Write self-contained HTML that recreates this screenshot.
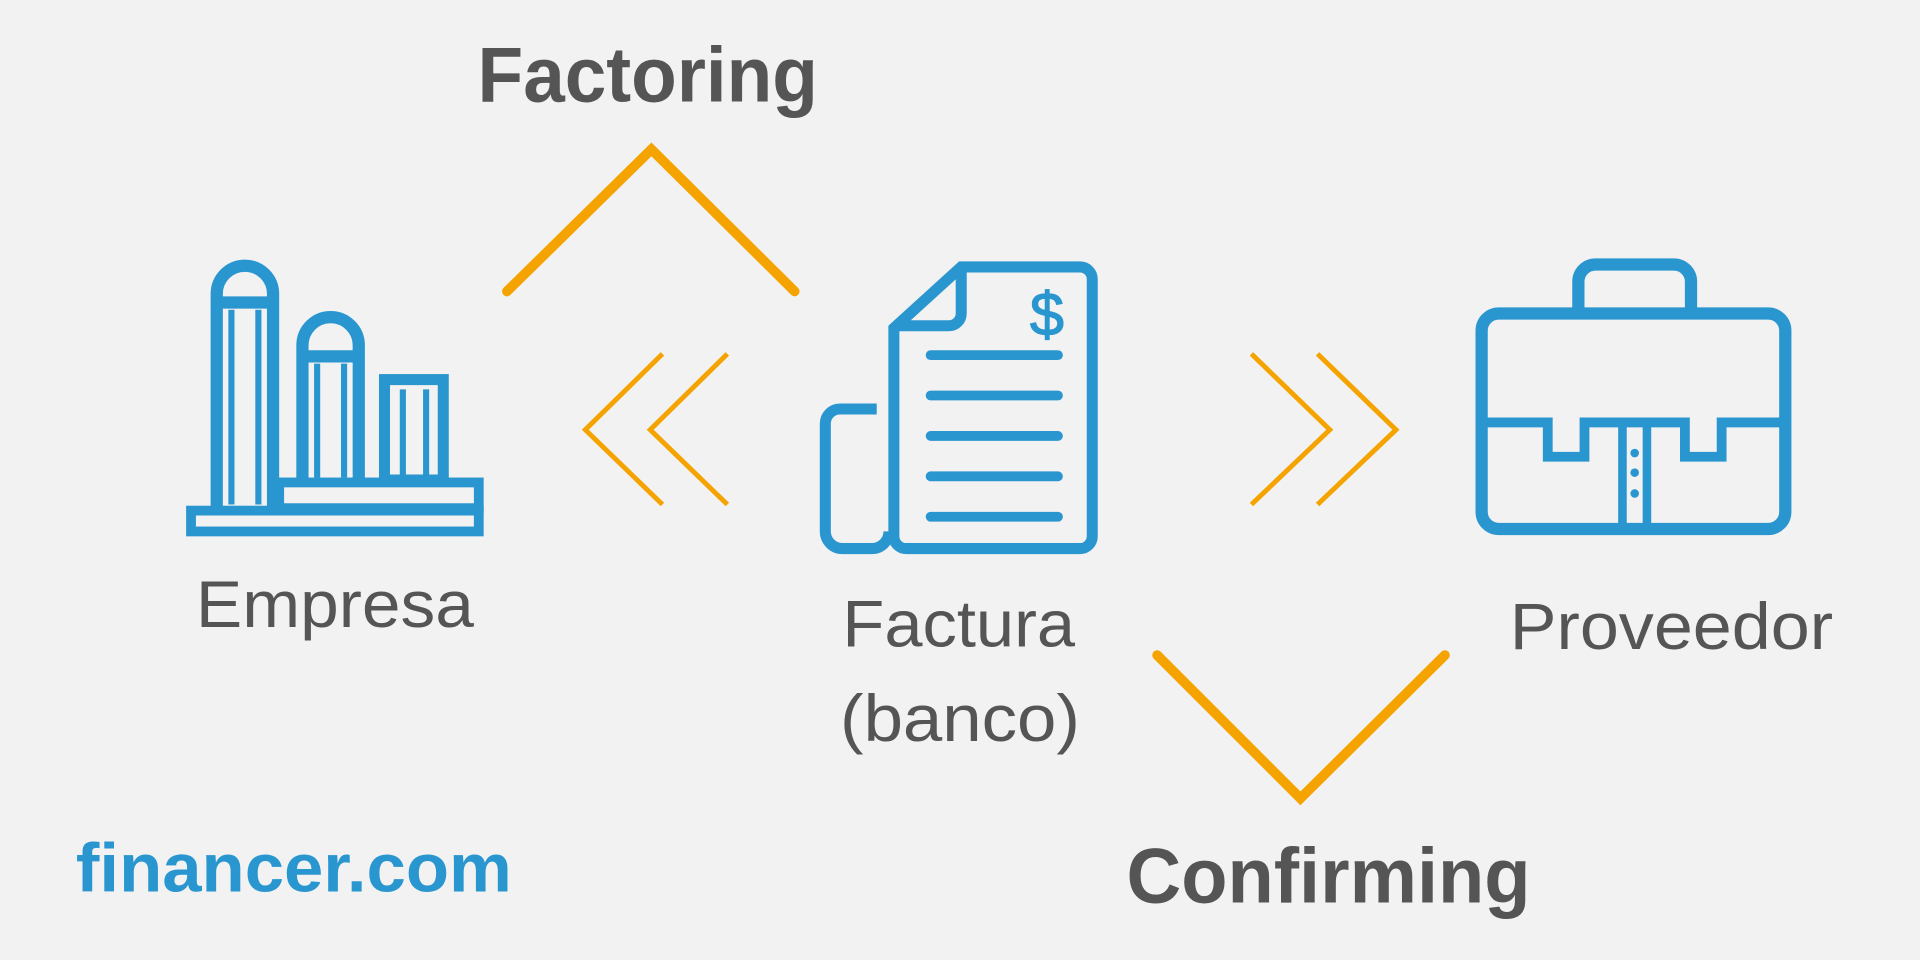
<!DOCTYPE html>
<html><head><meta charset="utf-8"><style>
html,body{margin:0;padding:0;background:#f2f2f2;}
svg{display:block;}
text{font-family:"Liberation Sans",sans-serif;}
</style></head><body>
<svg width="1920" height="960" viewBox="0 0 1568 784" xmlns="http://www.w3.org/2000/svg">
<rect width="1568" height="784" fill="#f2f2f2"/>
<g fill="none" stroke="#F5A300" stroke-linecap="round" stroke-linejoin="miter">
<polyline points="414,238 532,122 649,238" stroke-width="8"/>
<polyline points="945,535 1062,652 1180,535" stroke-width="8"/>
</g>
<g fill="none" stroke="#F5A300" stroke-width="4">
<polyline points="541,289 478,351 541,412"/>
<polyline points="594,289 531,351 594,412"/>
<polyline points="1022,289 1086,351 1022,412"/>
<polyline points="1076,289 1140,351 1076,412"/>
</g>
<g fill="none" stroke="#2A96D0" stroke-width="10">
<!-- building -->
<path d="M177,415 V240 A23,23 0 0 1 223,240 V415"/>
<line x1="177" y1="247" x2="223" y2="247"/>
<line x1="189" y1="253" x2="189" y2="412" stroke-width="5"/>
<line x1="211" y1="253" x2="211" y2="412" stroke-width="5"/>
<path d="M247,392 V282 A23,23 0 0 1 293,282 V392"/>
<line x1="247" y1="291" x2="293" y2="291"/>
<line x1="259" y1="297" x2="259" y2="390" stroke-width="5"/>
<line x1="281" y1="297" x2="281" y2="390" stroke-width="5"/>
<rect x="314" y="310" width="48" height="82" stroke-width="9"/>
<line x1="329" y1="318" x2="329" y2="390" stroke-width="5"/>
<line x1="348" y1="318" x2="348" y2="390" stroke-width="5"/>
<rect x="228" y="394" width="163" height="21" stroke-width="8"/>
<rect x="156" y="417" width="235" height="17" stroke-width="8"/>
<!-- document -->
<path d="M785,218 H882 A10,10 0 0 1 892,228 V438 A10,10 0 0 1 882,448 H740 A10,10 0 0 1 730,438 V268 Z" stroke-width="9"/>
<path d="M785,218 V256 A10,10 0 0 1 775,266 H732" stroke-width="9"/>
<path d="M716,334 H686 A12,12 0 0 0 674,346 V434 A14,14 0 0 0 688,448 H712 A14,14 0 0 0 726,434" stroke-width="9"/>
<g stroke-linecap="round" stroke-width="8">
<line x1="760" y1="290" x2="864" y2="290"/>
<line x1="760" y1="323" x2="864" y2="323"/>
<line x1="760" y1="356" x2="864" y2="356"/>
<line x1="760" y1="389" x2="864" y2="389"/>
<line x1="760" y1="422" x2="864" y2="422"/>
</g>
<!-- briefcase -->
<rect x="1210" y="256" width="248" height="176" rx="14"/>
<path d="M1289,254 V230 A14,14 0 0 1 1303,216 H1367 A14,14 0 0 1 1381,230 V254"/>
<path d="M1212,345 H1264 V373 H1294 V345 H1376 V373 H1406 V345 H1456" stroke-width="8"/>
<line x1="1325" y1="348" x2="1325" y2="430" stroke-width="7"/>
<line x1="1345" y1="348" x2="1345" y2="430" stroke-width="7"/>
</g>
<g fill="#2A96D0">
<circle cx="1335" cy="370" r="3.5"/><circle cx="1335" cy="386" r="3.5"/><circle cx="1335" cy="403" r="3.5"/>
</g>
<text x="855" y="274" font-size="50" fill="#2A96D0" text-anchor="middle" stroke="#2A96D0" stroke-width="1">$</text>
<g fill="#555">
<text x="390" y="83" font-size="64" font-weight="bold" textLength="278" lengthAdjust="spacingAndGlyphs">Factoring</text>
<text x="920" y="737" font-size="64" font-weight="bold" textLength="330" lengthAdjust="spacingAndGlyphs">Confirming</text>
<text x="160" y="512" font-size="54" textLength="227" lengthAdjust="spacingAndGlyphs">Empresa</text>
<text x="688" y="528" font-size="54" textLength="190" lengthAdjust="spacingAndGlyphs">Factura</text>
<text x="686" y="605" font-size="54" textLength="196" lengthAdjust="spacingAndGlyphs">(banco)</text>
<text x="1233" y="530" font-size="54" textLength="264" lengthAdjust="spacingAndGlyphs">Proveedor</text>
</g>
<text x="62" y="728" font-size="56" font-weight="bold" fill="#2A96D0" textLength="356" lengthAdjust="spacingAndGlyphs">financer.com</text>
</svg>
</body></html>
